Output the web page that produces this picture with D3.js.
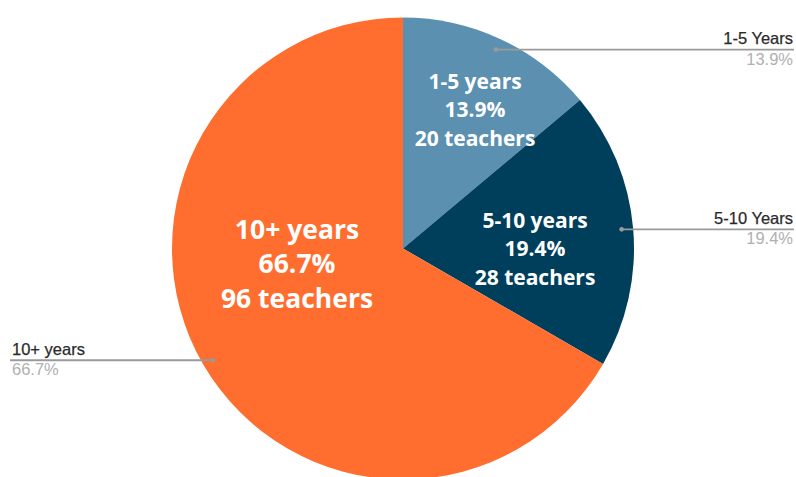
<!DOCTYPE html>
<html>
<head>
<meta charset="utf-8">
<script src="https://cdn.jsdelivr.net/npm/d3@7"></script>
<style>
  html, body { margin: 0; padding: 0; background: #fff; }
  svg { display: block; }
</style>
</head>
<body>
<svg id="chart"></svg>
<script>
// data
const categories = ["1-5 years", "5-10 years", "10+ years"];
const legendNames = ["1-5 Years", "5-10 Years", "10+ years"];
const teachers = [20, 28, 96];
const colors = ["#5b90b0", "#003f5c", "#ff6d2f"];

const width = 796, height = 477;
const cx = 403, cy = 248.5, radius = 231;

// where the big white labels sit (offset from centre, px) and their size
const innerLabelOffset = [[72, -131.5], [132, 7.5], [-106, 24.5]];
const innerFont = [21, 21, 26.5];
const innerLeading = [28.5, 28.5, 34.5];

const total = d3.sum(teachers);
const pctFmt = v => (v / total * 100).toFixed(1) + "%";

const svg = d3.select("#chart")
  .attr("width", width)
  .attr("height", height);

const g = svg.append("g").attr("transform", `translate(${cx},${cy})`);

const pie = d3.pie().sort(null).value(d => d);
const arcs = pie(teachers);

const arc = d3.arc().innerRadius(0).outerRadius(radius);
const leaderArc = d3.arc().innerRadius(radius * 0.95).outerRadius(radius * 0.95);

g.selectAll("path.slice")
  .data(arcs)
  .join("path")
  .attr("class", "slice")
  .attr("d", arc)
  .attr("fill", (d, i) => colors[i]);

// inner labels
arcs.forEach((d, i) => {
  const [dx, dy] = innerLabelOffset[i];
  const lines = [categories[i], pctFmt(teachers[i]), teachers[i] + " teachers"];
  const t = g.append("text")
    .attr("text-anchor", "middle")
    .style("font-family", "'Open Sans', sans-serif")
    .style("font-weight", "bold")
    .style("font-size", innerFont[i] + "px")
    .attr("fill", "#fff");
  lines.forEach((l, j) => {
    t.append("tspan")
      .attr("x", dx)
      .attr("y", dy + (j - 1) * innerLeading[i])
      .text(l);
  });
});

// outside leader labels
arcs.forEach((d, i) => {
  const [px, py] = leaderArc.centroid(d);
  const right = px > 0;
  const x0 = px + cx, y0 = py + cy + (right ? 0 : 2);
  const xEnd = right ? width - 2 : 10;

  svg.append("line")
    .attr("x1", x0).attr("y1", y0)
    .attr("x2", xEnd).attr("y2", y0)
    .attr("stroke", "#9a9a9a")
    .attr("stroke-width", 1.8);

  svg.append("circle")
    .attr("cx", x0).attr("cy", y0)
    .attr("r", 2.3)
    .attr("fill", "#9a9a9a");

  const tx = right ? width - 3 : 12;
  const anchor = right ? "end" : "start";

  svg.append("text")
    .attr("x", tx).attr("y", y0 - 5.5)
    .attr("text-anchor", anchor)
    .style("font-family", "'Liberation Sans', Arial, sans-serif")
    .style("font-size", "16.5px")
    .attr("fill", "#2b2b2b")
    .attr("stroke", "#2b2b2b")
    .attr("stroke-width", 0.25)
    .text(legendNames[i]);

  svg.append("text")
    .attr("x", tx).attr("y", y0 + 15)
    .attr("text-anchor", anchor)
    .style("font-family", "'Liberation Sans', Arial, sans-serif")
    .style("font-size", "16.5px")
    .attr("fill", "#b0b0b0")
    .text(pctFmt(teachers[i]));
});
</script>
</body>
</html>
